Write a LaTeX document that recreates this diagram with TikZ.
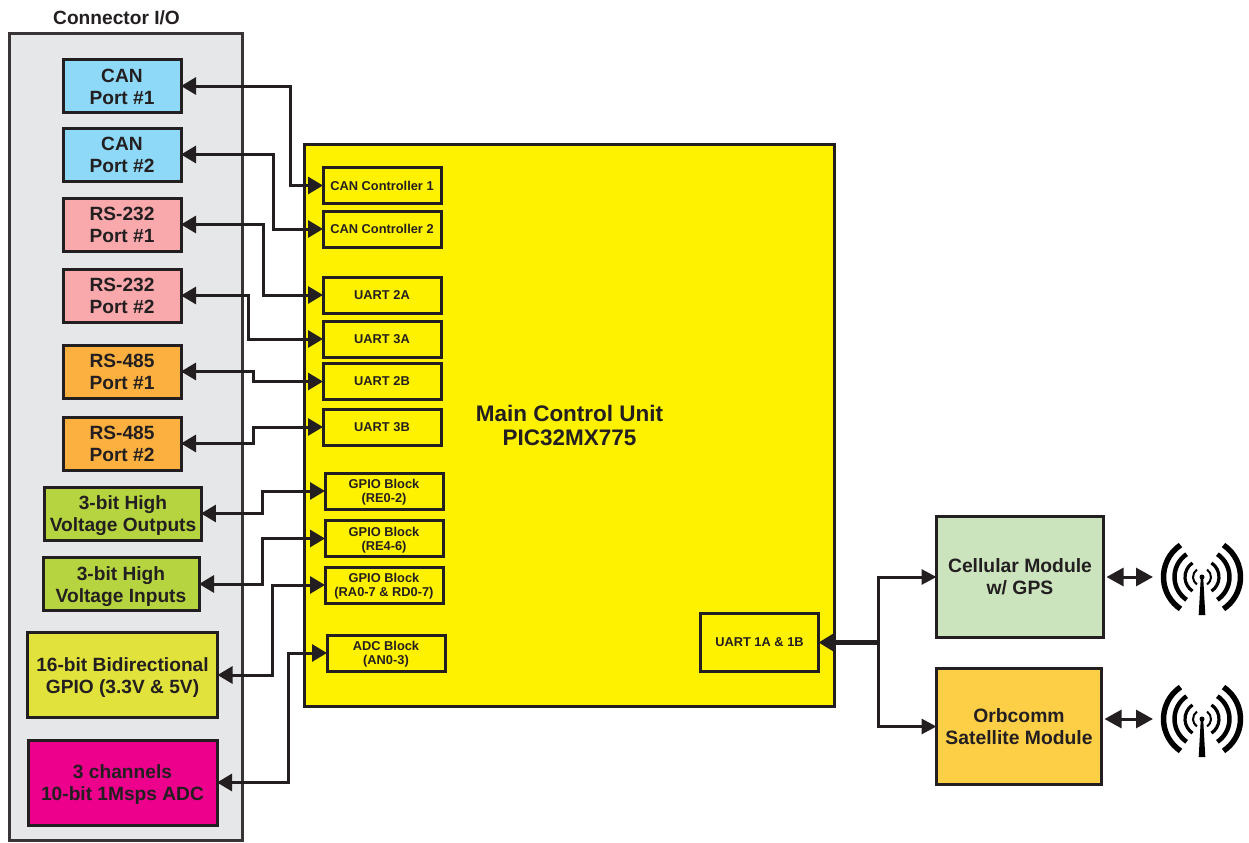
\documentclass[tikz,border=0pt]{standalone}
\usepackage{xcolor}
\usepackage{fontspec}
\setmainfont{Liberation Sans}
\usetikzlibrary{arrows.meta}
\definecolor{IOInk}{HTML}{231F20}
\definecolor{IOPanel}{HTML}{E6E7E8}
\definecolor{IOCan}{HTML}{8ED8F8}
\definecolor{IORs232}{HTML}{F9A9AC}
\definecolor{IORs485}{HTML}{FBB040}
\definecolor{IOHigh}{HTML}{B5D43F}
\definecolor{IOGpio}{HTML}{E1E23B}
\definecolor{IOAdc}{HTML}{EC008C}
\definecolor{IOMcu}{HTML}{FFF200}
\definecolor{IOCell}{HTML}{CCE4BE}
\definecolor{IOOrb}{HTML}{FDCF47}
\tikzset{
  plainbox/.style={draw=IOInk,line width=0.03cm,outer sep=0pt,inner sep=0pt,align=center,text=IOInk},
  portbox/.style={plainbox,minimum width=1.18cm,minimum height=0.53cm,font=\fontsize{5.45}{6.25}\selectfont\bfseries},
  blockbox/.style={plainbox,fill=IOMcu,minimum width=1.18cm,minimum height=0.36cm,font=\fontsize{3.65}{3.95}\selectfont\bfseries},
  link/.style={draw=IOInk,line width=0.03cm,{Triangle[length=0.15cm,width=0.17cm]}-{Triangle[length=0.15cm,width=0.17cm]}},
  radiolink/.style={draw=IOInk,line width=0.03cm,{Triangle[length=0.17cm,width=0.18cm]}-{Triangle[length=0.17cm,width=0.18cm]},shorten <=0.03cm}
}
\begin{document}
\begin{tikzpicture}[x=1cm,y=1cm]
\path[use as bounding box] (0,0) rectangle (12.49,8.42);
\node[plainbox,fill=IOPanel,draw=IOInk!90,minimum width=2.33cm,minimum height=8.06cm] (panel) at (1.255,4.05) {};
\node[font=\fontsize{5.45}{6.25}\selectfont\bfseries,text=IOInk] (paneltitle) at (1.165,8.24) {Connector I/O};
\node[portbox,fill=IOCan] (canA) at (1.22,7.56) {\rule{0pt}{4.2pt}CAN\\Port \#1};
\node[portbox,fill=IOCan] (canB) at (1.22,6.875) {\rule{0pt}{4.2pt}CAN\\Port \#2};
\node[portbox,fill=IORs232] (rsA) at (1.22,6.175) {RS-232\\Port \#1};
\node[portbox,fill=IORs232] (rsB) at (1.22,5.465) {RS-232\\Port \#2};
\node[portbox,fill=IORs485] (rsC) at (1.22,4.705) {RS-485\\Port \#1};
\node[portbox,fill=IORs485] (rsD) at (1.22,3.985) {RS-485\\Port \#2};
\node[portbox,fill=IOHigh,minimum width=1.56cm] (hvOut) at (1.23,3.285) {\rule{0pt}{5.1pt}3-bit High\\Voltage Outputs};
\node[portbox,fill=IOHigh,minimum width=1.56cm] (hvIn) at (1.21,2.58) {\rule{0pt}{5.5pt}3-bit High\\Voltage Inputs};
\node[portbox,fill=IOGpio,minimum width=1.90cm,minimum height=0.85cm] (gpioPort) at (1.225,1.67) {\rule{0pt}{5.6pt}16-bit Bidirectional\\GPIO (3.3V \& 5V)};
\node[portbox,fill=IOAdc,minimum width=1.89cm,minimum height=0.85cm] (adcPort) at (1.225,0.595) {\rule{0pt}{5.1pt}3 channels\\10-bit 1Msps ADC};
\node[plainbox,fill=IOMcu,minimum width=5.30cm,minimum height=5.62cm,font=\fontsize{6.4}{6.8}\selectfont\bfseries] (mcu) at (5.695,4.165) {Main Control Unit\\PIC32MX775};
\node[blockbox] (ctlA) at (3.82,6.565) {CAN Controller 1};
\node[blockbox] (ctlB) at (3.82,6.13) {CAN Controller 2};
\node[blockbox] (uartTwoA) at (3.82,5.47) {UART 2A};
\node[blockbox] (uartThreeA) at (3.82,5.03) {UART 3A};
\node[blockbox] (uartTwoB) at (3.82,4.605) {UART 2B};
\node[blockbox] (uartThreeB) at (3.82,4.15) {UART 3B};
\node[blockbox] (gpioA) at (3.84,3.51) {\rule{0pt}{3.2pt}GPIO Block\\(RE0-2)};
\node[blockbox] (gpioB) at (3.84,3.035) {\rule{0pt}{3.4pt}GPIO Block\\(RE4-6)};
\node[blockbox] (gpioC) at (3.84,2.57) {\rule{0pt}{3.2pt}GPIO Block\\(RA0-7 \& RD0-7)};
\node[blockbox] (adcBlock) at (3.86,1.89) {\rule{0pt}{3.4pt}ADC Block\\(AN0-3)};
\node[blockbox,minimum width=1.18cm,minimum height=0.58cm] (uartOne) at (7.595,1.995) {UART 1A \& 1B};
\node[portbox,fill=IOCell,minimum width=1.67cm,minimum height=1.21cm,font=\fontsize{5.5}{6.25}\selectfont\bfseries] (cell) at (10.20,2.65) {Cellular Module\\w/ GPS};
\node[portbox,fill=IOOrb,minimum width=1.65cm,minimum height=1.16cm,font=\fontsize{5.5}{6.25}\selectfont\bfseries] (orb) at (10.19,1.155) {Orbcomm\\Satellite Module};
\foreach \from/\to/\midx in {canA/ctlA/2.90,canB/ctlB/2.73,rsA/uartTwoA/2.63,rsB/uartThreeA/2.48,rsC/uartTwoB/2.53,rsD/uartThreeB/2.53,hvOut/gpioA/2.62,hvIn/gpioB/2.62,gpioPort/gpioC/2.72,adcPort/adcBlock/2.88}
  \draw[link] (\from.east) -- (\midx,0 |- \from.east) |- (\to.west);
\coordinate (fork) at (8.78,1.995);
\draw[draw=IOInk,line width=0.045cm,{Triangle[length=0.15cm,width=0.17cm]}-] (uartOne.east) -- (fork);
\draw[draw=IOInk,line width=0.03cm,-{Triangle[length=0.15cm,width=0.15cm]}] (fork) |- (cell.west);
\draw[draw=IOInk,line width=0.03cm,-{Triangle[length=0.15cm,width=0.15cm]}] (fork) |- (orb.west);
\coordinate (antA) at (11.53,2.65);
\coordinate (antB) at (11.53,1.23);
\draw[radiolink] (cell.east) -- (antA);
\draw[radiolink] (orb.east |- antB) -- (antB);
\foreach \ant/\anty in {A/2.65,B/1.23}{
  \begin{scope}[shift={(12.02,\anty)}]
  \foreach \rad/\wid in {0.385/0.055,0.275/0.045,0.17/0.032,0.09/0.02}{
    \draw[line width=\wid cm,black] (56:\rad) arc (56:-56:\rad);
    \draw[line width=\wid cm,black] (124:\rad) arc (124:236:\rad);
  }
  \fill[black] (-0.012,0) -- (0.012,0) -- (0.033,-0.38) -- (-0.033,-0.38) -- cycle;
  \fill[black] (0,0) circle (0.025);
  \end{scope}
}
\end{tikzpicture}
\end{document}
